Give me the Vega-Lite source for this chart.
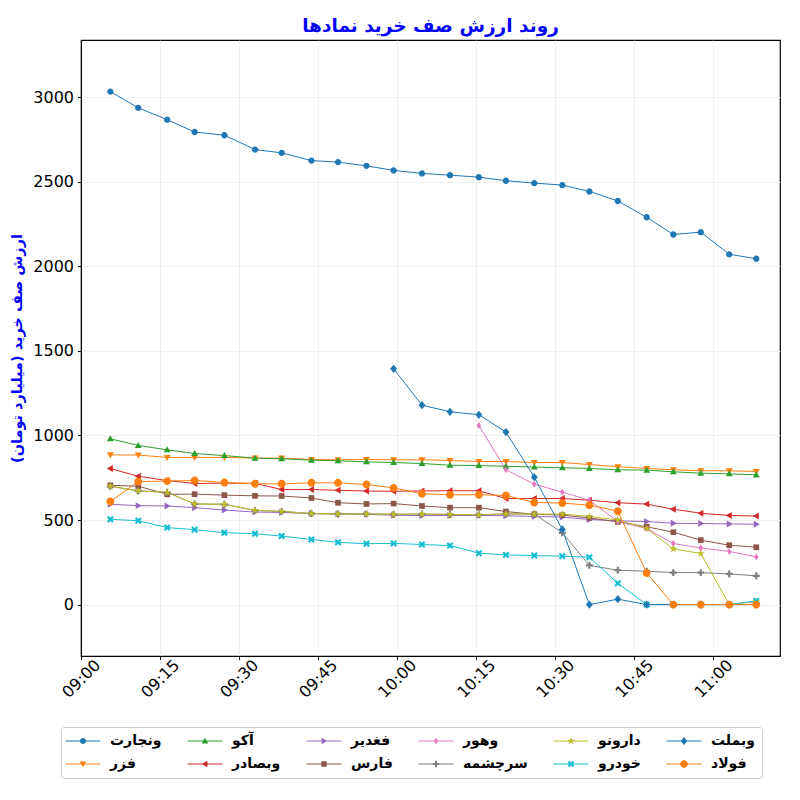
{
"$schema": "https://vega.github.io/schema/vega-lite/v6.json",
"width": 699, "height": 616,
"autosize": {"type": "none"},
"padding": {"left": 81, "top": 40, "right": 20, "bottom": 144},
"background": "white",
"title": {"text": "روند ارزش صف خرید نمادها", "fontSize": 18.5, "font": "DejaVu Sans", "fontWeight": "bold", "color": "#0000ff", "offset": 5, "anchor": "middle"},
"data": {"format": {"parse": {"t": "date:'%H:%M:%S'"}}, "values": [
{"t":"09:05:34","s":"ونجارت","v":3033},{"t":"09:10:52","s":"ونجارت","v":2937},{"t":"09:16:21","s":"ونجارت","v":2867},{"t":"09:21:34","s":"ونجارت","v":2794},{"t":"09:27:13","s":"ونجارت","v":2775},{"t":"09:33:02","s":"ونجارت","v":2690},{"t":"09:38:05","s":"ونجارت","v":2671},{"t":"09:43:44","s":"ونجارت","v":2625},{"t":"09:48:47","s":"ونجارت","v":2616},{"t":"09:54:11","s":"ونجارت","v":2594},{"t":"09:59:20","s":"ونجارت","v":2567},{"t":"10:04:43","s":"ونجارت","v":2549},{"t":"10:10:02","s":"ونجارت","v":2539},{"t":"10:15:31","s":"ونجارت","v":2527},{"t":"10:20:39","s":"ونجارت","v":2506},{"t":"10:26:02","s":"ونجارت","v":2492},{"t":"10:31:21","s":"ونجارت","v":2480},{"t":"10:36:29","s":"ونجارت","v":2443},{"t":"10:41:53","s":"ونجارت","v":2386},{"t":"10:47:22","s":"ونجارت","v":2290},{"t":"10:52:25","s":"ونجارت","v":2188},{"t":"10:57:38","s":"ونجارت","v":2202},{"t":"11:03:02","s":"ونجارت","v":2071},{"t":"11:08:10","s":"ونجارت","v":2045},
{"t":"09:05:34","s":"فزر","v":885},{"t":"09:10:52","s":"فزر","v":884},{"t":"09:16:21","s":"فزر","v":870},{"t":"09:21:34","s":"فزر","v":870},{"t":"09:27:13","s":"فزر","v":870},{"t":"09:33:02","s":"فزر","v":866},{"t":"09:38:05","s":"فزر","v":866},{"t":"09:43:44","s":"فزر","v":858},{"t":"09:48:47","s":"فزر","v":856},{"t":"09:54:11","s":"فزر","v":858},{"t":"09:59:20","s":"فزر","v":856},{"t":"10:04:43","s":"فزر","v":856},{"t":"10:10:02","s":"فزر","v":852},{"t":"10:15:31","s":"فزر","v":846},{"t":"10:20:39","s":"فزر","v":846},{"t":"10:26:02","s":"فزر","v":840},{"t":"10:31:21","s":"فزر","v":840},{"t":"10:36:29","s":"فزر","v":828},{"t":"10:41:53","s":"فزر","v":815},{"t":"10:47:22","s":"فزر","v":805},{"t":"10:52:25","s":"فزر","v":797},{"t":"10:57:38","s":"فزر","v":791},{"t":"11:03:02","s":"فزر","v":791},{"t":"11:08:10","s":"فزر","v":787},
{"t":"09:05:34","s":"آکو","v":980},{"t":"09:10:52","s":"آکو","v":941},{"t":"09:16:21","s":"آکو","v":915},{"t":"09:21:34","s":"آکو","v":893},{"t":"09:27:13","s":"آکو","v":881},{"t":"09:33:02","s":"آکو","v":866},{"t":"09:38:05","s":"آکو","v":862},{"t":"09:43:44","s":"آکو","v":854},{"t":"09:48:47","s":"آکو","v":850},{"t":"09:54:11","s":"آکو","v":844},{"t":"09:59:20","s":"آکو","v":840},{"t":"10:04:43","s":"آکو","v":834},{"t":"10:10:02","s":"آکو","v":824},{"t":"10:15:31","s":"آکو","v":822},{"t":"10:20:39","s":"آکو","v":818},{"t":"10:26:02","s":"آکو","v":813},{"t":"10:31:21","s":"آکو","v":809},{"t":"10:36:29","s":"آکو","v":805},{"t":"10:41:53","s":"آکو","v":797},{"t":"10:47:22","s":"آکو","v":795},{"t":"10:52:25","s":"آکو","v":785},{"t":"10:57:38","s":"آکو","v":777},{"t":"11:03:02","s":"آکو","v":773},{"t":"11:08:10","s":"آکو","v":767},
{"t":"09:05:34","s":"وبصادر","v":804},{"t":"09:10:52","s":"وبصادر","v":759},{"t":"09:16:21","s":"وبصادر","v":733},{"t":"09:21:34","s":"وبصادر","v":716},{"t":"09:27:13","s":"وبصادر","v":718},{"t":"09:33:02","s":"وبصادر","v":717},{"t":"09:38:05","s":"وبصادر","v":680},{"t":"09:43:44","s":"وبصادر","v":680},{"t":"09:48:47","s":"وبصادر","v":676},{"t":"09:54:11","s":"وبصادر","v":671},{"t":"09:59:20","s":"وبصادر","v":670},{"t":"10:04:43","s":"وبصادر","v":672},{"t":"10:10:02","s":"وبصادر","v":673},{"t":"10:15:31","s":"وبصادر","v":673},{"t":"10:20:39","s":"وبصادر","v":627},{"t":"10:26:02","s":"وبصادر","v":627},{"t":"10:31:21","s":"وبصادر","v":627},{"t":"10:36:29","s":"وبصادر","v":617},{"t":"10:41:53","s":"وبصادر","v":602},{"t":"10:47:22","s":"وبصادر","v":594},{"t":"10:52:25","s":"وبصادر","v":564},{"t":"10:57:38","s":"وبصادر","v":540},{"t":"11:03:02","s":"وبصادر","v":527},{"t":"11:08:10","s":"وبصادر","v":523},
{"t":"09:05:34","s":"فغدیر","v":593},{"t":"09:10:52","s":"فغدیر","v":585},{"t":"09:16:21","s":"فغدیر","v":583},{"t":"09:21:34","s":"فغدیر","v":573},{"t":"09:27:13","s":"فغدیر","v":559},{"t":"09:33:02","s":"فغدیر","v":547},{"t":"09:38:05","s":"فغدیر","v":545},{"t":"09:43:44","s":"فغدیر","v":538},{"t":"09:48:47","s":"فغدیر","v":536},{"t":"09:54:11","s":"فغدیر","v":534},{"t":"09:59:20","s":"فغدیر","v":528},{"t":"10:04:43","s":"فغدیر","v":526},{"t":"10:10:02","s":"فغدیر","v":527},{"t":"10:15:31","s":"فغدیر","v":527},{"t":"10:20:39","s":"فغدیر","v":525},{"t":"10:26:02","s":"فغدیر","v":521},{"t":"10:31:21","s":"فغدیر","v":517},{"t":"10:36:29","s":"فغدیر","v":503},{"t":"10:41:53","s":"فغدیر","v":495},{"t":"10:47:22","s":"فغدیر","v":491},{"t":"10:52:25","s":"فغدیر","v":481},{"t":"10:57:38","s":"فغدیر","v":479},{"t":"11:03:02","s":"فغدیر","v":477},{"t":"11:08:10","s":"فغدیر","v":475},
{"t":"09:05:34","s":"فارس","v":705},{"t":"09:10:52","s":"فارس","v":700},{"t":"09:16:21","s":"فارس","v":652},{"t":"09:21:34","s":"فارس","v":653},{"t":"09:27:13","s":"فارس","v":647},{"t":"09:33:02","s":"فارس","v":643},{"t":"09:38:05","s":"فارس","v":642},{"t":"09:43:44","s":"فارس","v":630},{"t":"09:48:47","s":"فارس","v":602},{"t":"09:54:11","s":"فارس","v":595},{"t":"09:59:20","s":"فارس","v":597},{"t":"10:04:43","s":"فارس","v":583},{"t":"10:10:02","s":"فارس","v":573},{"t":"10:15:31","s":"فارس","v":573},{"t":"10:20:39","s":"فارس","v":550},{"t":"10:26:02","s":"فارس","v":534},{"t":"10:31:21","s":"فارس","v":529},{"t":"10:36:29","s":"فارس","v":512},{"t":"10:41:53","s":"فارس","v":489},{"t":"10:47:22","s":"فارس","v":460},{"t":"10:52:25","s":"فارس","v":428},{"t":"10:57:38","s":"فارس","v":381},{"t":"11:03:02","s":"فارس","v":351},{"t":"11:08:10","s":"فارس","v":339},
{"t":"10:15:31","s":"وهور","v":1059},{"t":"10:20:39","s":"وهور","v":797},{"t":"10:26:02","s":"وهور","v":712},{"t":"10:31:21","s":"وهور","v":665},{"t":"10:36:29","s":"وهور","v":617},{"t":"10:41:53","s":"وهور","v":491},{"t":"10:47:22","s":"وهور","v":450},{"t":"10:52:25","s":"وهور","v":361},{"t":"10:57:38","s":"وهور","v":335},{"t":"11:03:02","s":"وهور","v":314},{"t":"11:08:10","s":"وهور","v":282},
{"t":"09:05:34","s":"سرچشمه","v":700},{"t":"09:10:52","s":"سرچشمه","v":672},{"t":"09:16:21","s":"سرچشمه","v":664},{"t":"09:21:34","s":"سرچشمه","v":595},{"t":"09:27:13","s":"سرچشمه","v":593},{"t":"09:33:02","s":"سرچشمه","v":557},{"t":"09:38:05","s":"سرچشمه","v":551},{"t":"09:43:44","s":"سرچشمه","v":538},{"t":"09:48:47","s":"سرچشمه","v":536},{"t":"09:54:11","s":"سرچشمه","v":536},{"t":"09:59:20","s":"سرچشمه","v":534},{"t":"10:04:43","s":"سرچشمه","v":535},{"t":"10:10:02","s":"سرچشمه","v":533},{"t":"10:15:31","s":"سرچشمه","v":531},{"t":"10:20:39","s":"سرچشمه","v":536},{"t":"10:26:02","s":"سرچشمه","v":535},{"t":"10:31:21","s":"سرچشمه","v":424},{"t":"10:36:29","s":"سرچشمه","v":232},{"t":"10:41:53","s":"سرچشمه","v":203},{"t":"10:47:22","s":"سرچشمه","v":197},{"t":"10:52:25","s":"سرچشمه","v":189},{"t":"10:57:38","s":"سرچشمه","v":189},{"t":"11:03:02","s":"سرچشمه","v":181},{"t":"11:08:10","s":"سرچشمه","v":170},
{"t":"09:05:34","s":"دارونو","v":700},{"t":"09:10:52","s":"دارونو","v":672},{"t":"09:16:21","s":"دارونو","v":664},{"t":"09:21:34","s":"دارونو","v":595},{"t":"09:27:13","s":"دارونو","v":593},{"t":"09:33:02","s":"دارونو","v":557},{"t":"09:38:05","s":"دارونو","v":551},{"t":"09:43:44","s":"دارونو","v":538},{"t":"09:48:47","s":"دارونو","v":536},{"t":"09:54:11","s":"دارونو","v":536},{"t":"09:59:20","s":"دارونو","v":534},{"t":"10:04:43","s":"دارونو","v":535},{"t":"10:10:02","s":"دارونو","v":533},{"t":"10:15:31","s":"دارونو","v":531},{"t":"10:20:39","s":"دارونو","v":536},{"t":"10:26:02","s":"دارونو","v":535},{"t":"10:31:21","s":"دارونو","v":535},{"t":"10:36:29","s":"دارونو","v":521},{"t":"10:41:53","s":"دارونو","v":501},{"t":"10:47:22","s":"دارونو","v":450},{"t":"10:52:25","s":"دارونو","v":329},{"t":"10:57:38","s":"دارونو","v":302},{"t":"11:03:02","s":"دارونو","v":0},{"t":"11:08:10","s":"دارونو","v":18},
{"t":"09:05:34","s":"خودرو","v":504},{"t":"09:10:52","s":"خودرو","v":496},{"t":"09:16:21","s":"خودرو","v":455},{"t":"09:21:34","s":"خودرو","v":443},{"t":"09:27:13","s":"خودرو","v":425},{"t":"09:33:02","s":"خودرو","v":419},{"t":"09:38:05","s":"خودرو","v":405},{"t":"09:43:44","s":"خودرو","v":385},{"t":"09:48:47","s":"خودرو","v":368},{"t":"09:54:11","s":"خودرو","v":360},{"t":"09:59:20","s":"خودرو","v":362},{"t":"10:04:43","s":"خودرو","v":355},{"t":"10:10:02","s":"خودرو","v":349},{"t":"10:15:31","s":"خودرو","v":304},{"t":"10:20:39","s":"خودرو","v":294},{"t":"10:26:02","s":"خودرو","v":290},{"t":"10:31:21","s":"خودرو","v":286},{"t":"10:36:29","s":"خودرو","v":280},{"t":"10:41:53","s":"خودرو","v":126},{"t":"10:47:22","s":"خودرو","v":0},{"t":"10:52:25","s":"خودرو","v":0},{"t":"10:57:38","s":"خودرو","v":0},{"t":"11:03:02","s":"خودرو","v":0},{"t":"11:08:10","s":"خودرو","v":22},
{"t":"09:59:20","s":"وبملت","v":1394},{"t":"10:04:43","s":"وبملت","v":1179},{"t":"10:10:02","s":"وبملت","v":1140},{"t":"10:15:31","s":"وبملت","v":1122},{"t":"10:20:39","s":"وبملت","v":1020},{"t":"10:26:02","s":"وبملت","v":753},{"t":"10:31:21","s":"وبملت","v":444},{"t":"10:36:29","s":"وبملت","v":0},{"t":"10:41:53","s":"وبملت","v":32},{"t":"10:47:22","s":"وبملت","v":0},{"t":"10:52:25","s":"وبملت","v":0},{"t":"10:57:38","s":"وبملت","v":0},{"t":"11:03:02","s":"وبملت","v":0},{"t":"11:08:10","s":"وبملت","v":0},
{"t":"09:05:34","s":"فولاد","v":609},{"t":"09:10:52","s":"فولاد","v":728},{"t":"09:16:21","s":"فولاد","v":730},{"t":"09:21:34","s":"فولاد","v":734},{"t":"09:27:13","s":"فولاد","v":722},{"t":"09:33:02","s":"فولاد","v":714},{"t":"09:38:05","s":"فولاد","v":714},{"t":"09:43:44","s":"فولاد","v":720},{"t":"09:48:47","s":"فولاد","v":720},{"t":"09:54:11","s":"فولاد","v":710},{"t":"09:59:20","s":"فولاد","v":690},{"t":"10:04:43","s":"فولاد","v":655},{"t":"10:10:02","s":"فولاد","v":649},{"t":"10:15:31","s":"فولاد","v":649},{"t":"10:20:39","s":"فولاد","v":645},{"t":"10:26:02","s":"فولاد","v":604},{"t":"10:31:21","s":"فولاد","v":600},{"t":"10:36:29","s":"فولاد","v":588},{"t":"10:41:53","s":"فولاد","v":552},{"t":"10:47:22","s":"فولاد","v":187},{"t":"10:52:25","s":"فولاد","v":0},{"t":"10:57:38","s":"فولاد","v":0},{"t":"11:03:02","s":"فولاد","v":0},{"t":"11:08:10","s":"فولاد","v":0}
]},
"encoding": {
  "x": {"field": "t", "type": "temporal",
    "scale": {"domain": [{"year":1900,"month":1,"date":1,"hours":9,"minutes":0}, {"year":1900,"month":1,"date":1,"hours":11,"minutes":12,"seconds":40}]},
    "axis": {"title": null, "format": "%H:%M",
      "values": [{"year":1900,"month":1,"date":1,"hours":9,"minutes":0},{"year":1900,"month":1,"date":1,"hours":9,"minutes":15},{"year":1900,"month":1,"date":1,"hours":9,"minutes":30},{"year":1900,"month":1,"date":1,"hours":9,"minutes":45},{"year":1900,"month":1,"date":1,"hours":10,"minutes":0},{"year":1900,"month":1,"date":1,"hours":10,"minutes":15},{"year":1900,"month":1,"date":1,"hours":10,"minutes":30},{"year":1900,"month":1,"date":1,"hours":10,"minutes":45},{"year":1900,"month":1,"date":1,"hours":11,"minutes":0}],
      "labelAngle": -45, "labelAlign": "center", "labelBaseline": "middle", "labelPadding": 19}},
  "y": {"field": "v", "type": "quantitative",
    "scale": {"domain": [-304, 3338], "nice": false, "zero": false},
    "axis": {"title": "ارزش صف خرید (میلیارد تومان)", "values": [0,500,1000,1500,2000,2500,3000], "format": "d",
      "titleColor": "#0000ff", "titleFontSize": 14.5, "titleFontWeight": "bold", "titlePadding": 8, "labelPadding": 4}},
  "color": {"field": "s", "type": "nominal",
    "scale": {"domain": ["ونجارت","آکو","فغدیر","وهور","دارونو","وبملت","فزر","وبصادر","فارس","سرچشمه","خودرو","فولاد"],
      "range": ["#1f77b4","#2ca02c","#9467bd","#e377c2","#bcbd22","#1f77b4","#ff7f0e","#d62728","#8c564b","#7f7f7f","#17becf","#ff7f0e"]},
    "legend": {"orient": "none", "legendX": -20, "legendY": 687, "direction": "horizontal", "columns": 6, "title": null,
      "gridAlign": "each", "columnPadding": 25, "rowPadding": 9, "padding": 7,
      "strokeColor": "#cccccc", "fillColor": "white", "cornerRadius": 3,
      "labelFontSize": 14, "labelFont": "DejaVu Sans", "labelFontWeight": "bold", "labelColor": "black", "labelLimit": 200,
      "symbolSize": 36, "symbolOffset": 8, "labelOffset": 20, "symbolOpacity": 1, "symbolStrokeWidth": 0}}
},
"layer": [
  {"mark": {"type": "line", "strokeWidth": 1}},
  {"transform": [{"filter": "datum.s === 'ونجارت'"}], "mark": {"type": "point", "filled": true, "opacity": 1, "size": 40, "shape": "M1,0A1,1,0,1,1,-1,0A1,1,0,1,1,1,0Z"}},
  {"transform": [{"filter": "datum.s === 'فزر'"}], "mark": {"type": "point", "filled": true, "opacity": 1, "size": 40, "shape": "M0,1.1L-1.1,-0.8L1.1,-0.8Z"}},
  {"transform": [{"filter": "datum.s === 'آکو'"}], "mark": {"type": "point", "filled": true, "opacity": 1, "size": 40, "shape": "M0,-1.1L1.1,0.8L-1.1,0.8Z"}},
  {"transform": [{"filter": "datum.s === 'وبصادر'"}], "mark": {"type": "point", "filled": true, "opacity": 1, "size": 40, "shape": "M-1.1,0L0.8,-1.1L0.8,1.1Z"}},
  {"transform": [{"filter": "datum.s === 'فغدیر'"}], "mark": {"type": "point", "filled": true, "opacity": 1, "size": 40, "shape": "M1.1,0L-0.8,1.1L-0.8,-1.1Z"}},
  {"transform": [{"filter": "datum.s === 'فارس'"}], "mark": {"type": "point", "filled": true, "opacity": 1, "size": 40, "shape": "M-0.9,-0.9H0.9V0.9H-0.9Z"}},
  {"transform": [{"filter": "datum.s === 'وهور'"}], "mark": {"type": "point", "filled": true, "opacity": 1, "size": 40, "shape": "M0,-1.1L0.7,0L0,1.1L-0.7,0Z"}},
  {"transform": [{"filter": "datum.s === 'سرچشمه'"}], "mark": {"type": "point", "filled": true, "opacity": 1, "size": 40, "shape": "M-0.35,-1.1H0.35V-0.35H1.1V0.35H0.35V1.1H-0.35V0.35H-1.1V-0.35H-0.35Z"}},
  {"transform": [{"filter": "datum.s === 'دارونو'"}], "mark": {"type": "point", "filled": true, "opacity": 1, "size": 40, "shape": "M0,-1.3L0.31,-0.42L1.24,-0.4L0.49,0.16L0.76,1.05L0,0.52L-0.76,1.05L-0.49,0.16L-1.24,-0.4L-0.31,-0.42Z"}},
  {"transform": [{"filter": "datum.s === 'خودرو'"}], "mark": {"type": "point", "filled": true, "opacity": 1, "size": 40, "shape": "M-1.1,-0.6L-0.6,-1.1L0,-0.5L0.6,-1.1L1.1,-0.6L0.5,0L1.1,0.6L0.6,1.1L0,0.5L-0.6,1.1L-1.1,0.6L-0.5,0Z"}},
  {"transform": [{"filter": "datum.s === 'وبملت'"}], "mark": {"type": "point", "filled": true, "opacity": 1, "size": 40, "shape": "M0,-1.3L1.1,0L0,1.3L-1.1,0Z"}},
  {"transform": [{"filter": "datum.s === 'فولاد'"}], "mark": {"type": "point", "filled": true, "opacity": 1, "size": 40, "shape": "M1.25,0A1.25,1.25,0,1,1,-1.25,0A1.25,1.25,0,1,1,1.25,0Z"}},
  {"mark": {"type": "point", "filled": true, "opacity": 0, "size": 36},
   "encoding": {"shape": {"field": "s", "type": "nominal",
     "legend": {"orient": "none", "legendX": -20, "legendY": 687, "direction": "horizontal", "columns": 6, "title": null,
      "gridAlign": "each", "columnPadding": 25, "rowPadding": 9, "padding": 7,
      "strokeColor": "#cccccc", "fillColor": "white", "cornerRadius": 3,
      "labelFontSize": 14, "labelFont": "DejaVu Sans", "labelFontWeight": "bold", "labelColor": "black", "labelLimit": 200,
      "symbolSize": 36, "symbolOffset": 8, "labelOffset": 20, "symbolOpacity": 1, "symbolStrokeWidth": 0},
     "scale": {"domain": ["ونجارت","آکو","فغدیر","وهور","دارونو","وبملت","فزر","وبصادر","فارس","سرچشمه","خودرو","فولاد"],
       "range": ["M-5.8,-0.17H5.8V0.17H-5.8ZM1,0A1,1,0,1,1,-1,0A1,1,0,1,1,1,0Z",
                 "M-5.8,-0.17H5.8V0.17H-5.8ZM0,-1.1L1.1,0.8L-1.1,0.8Z",
                 "M-5.8,-0.17H5.8V0.17H-5.8ZM1.1,0L-0.8,1.1L-0.8,-1.1Z",
                 "M-5.8,-0.17H5.8V0.17H-5.8ZM0,-1.1L0.7,0L0,1.1L-0.7,0Z",
                 "M-5.8,-0.17H5.8V0.17H-5.8ZM0,-1.3L0.31,-0.42L1.24,-0.4L0.49,0.16L0.76,1.05L0,0.52L-0.76,1.05L-0.49,0.16L-1.24,-0.4L-0.31,-0.42Z",
                 "M-5.8,-0.17H5.8V0.17H-5.8ZM0,-1.3L1.1,0L0,1.3L-1.1,0Z",
                 "M-5.8,-0.17H5.8V0.17H-5.8ZM0,1.1L-1.1,-0.8L1.1,-0.8Z",
                 "M-5.8,-0.17H5.8V0.17H-5.8ZM-1.1,0L0.8,-1.1L0.8,1.1Z",
                 "M-5.8,-0.17H5.8V0.17H-5.8ZM-0.9,-0.9H0.9V0.9H-0.9Z",
                 "M-5.8,-0.17H5.8V0.17H-5.8ZM-0.35,-1.1H0.35V-0.35H1.1V0.35H0.35V1.1H-0.35V0.35H-1.1V-0.35H-0.35Z",
                 "M-5.8,-0.17H5.8V0.17H-5.8ZM-1.1,-0.6L-0.6,-1.1L0,-0.5L0.6,-1.1L1.1,-0.6L0.5,0L1.1,0.6L0.6,1.1L0,0.5L-0.6,1.1L-1.1,0.6L-0.5,0Z",
                 "M-5.8,-0.17H5.8V0.17H-5.8ZM1.25,0A1.25,1.25,0,1,1,-1.25,0A1.25,1.25,0,1,1,1.25,0Z"]}}}}
],
"config": {
  "font": "DejaVu Sans",
  "view": {"stroke": "black", "strokeWidth": 1.2},
  "axis": {"labelFont": "DejaVu Sans", "labelFontSize": 16, "labelColor": "black", "domainColor": "black", "tickColor": "black", "tickSize": 3.5, "gridColor": "#ececec", "gridWidth": 0.8, "titleFont": "DejaVu Sans"}
}
}
